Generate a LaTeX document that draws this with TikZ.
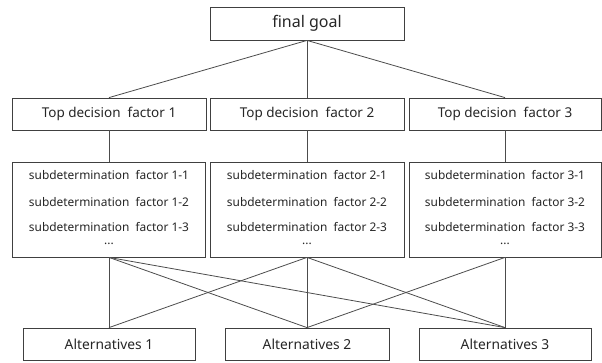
\documentclass[tikz,border=0pt]{standalone}
\usepackage{fontspec}
\setmainfont{Noto Sans}
\begin{document}
\begin{tikzpicture}[x=1pt,y=-1pt,
  box/.style={draw=black!75,line width=0.8pt,inner sep=0pt,text=black!85},
  conn/.style={draw=black!70,line width=0.8pt},
  goalfont/.style={font=\fontsize{16}{19}\selectfont},
  topfont/.style={font=\fontsize{13.5}{16}\selectfont},
  subfont/.style={font=\fontsize{11.9}{14}\selectfont,inner sep=0pt,text=black!85},
  altfont/.style={font=\fontsize{13.8}{16}\selectfont}]
\useasboundingbox (0,0) rectangle (602,362);
% goal
\node[box,goalfont,minimum width=194pt,minimum height=33pt] (goal) at (307,23.5) {final goal};
% top factors
\node[box,topfont,minimum width=194pt,minimum height=32pt] (t1) at (109,114) {Top decision\ \ factor 1};
\node[box,topfont,minimum width=194pt,minimum height=32pt] (t2) at (307,114) {Top decision\ \ factor 2};
\node[box,topfont,minimum width=192pt,minimum height=32pt] (t3) at (505,114) {Top decision\ \ factor 3};
% sub factors
\foreach \i/\x/\w in {1/109/193,2/307/194,3/505/192}{
  \node[box,minimum width=\w pt,minimum height=95pt] (s\i) at (\x,209.5) {};
  \node[subfont] (s\i a) at (\x,175) {subdetermination\ \ factor \i-1};
  \node[subfont] (s\i b) at (\x,202) {subdetermination\ \ factor \i-2};
  \node[subfont,align=center] (s\i c) at (\x,233.5) {subdetermination\ \ factor \i-3\\[-1.5pt]...};
}
% alternatives
\node[box,altfont,minimum width=172pt,minimum height=32pt] (a1) at (109,344) {Alternatives 1};
\node[box,altfont,minimum width=164pt,minimum height=32pt] (a2) at (307,344) {Alternatives 2};
\node[box,altfont,minimum width=172pt,minimum height=32pt] (a3) at (505,344) {Alternatives 3};
% connectors
\draw[conn] (goal.south) -- (t1.north);
\draw[conn] (goal.south) -- (t2.north);
\draw[conn] (goal.south) -- (t3.north);
\draw[conn] (t1.south) -- (s1.north);
\draw[conn] (t2.south) -- (s2.north);
\draw[conn] (t3.south) -- (s3.north);
\draw[conn] (s1.south) -- (a1.north);
\draw[conn] (s1.south) -- (a2.north);
\draw[conn] (s1.south) -- (a3.north);
\draw[conn] (s2.south) -- (a1.north);
\draw[conn] (s2.south) -- (a2.north);
\draw[conn] (s2.south) -- (a3.north);
\draw[conn] (s3.south) -- (a2.north);
\draw[conn] (s3.south) -- (a3.north);
\end{tikzpicture}
\end{document}
